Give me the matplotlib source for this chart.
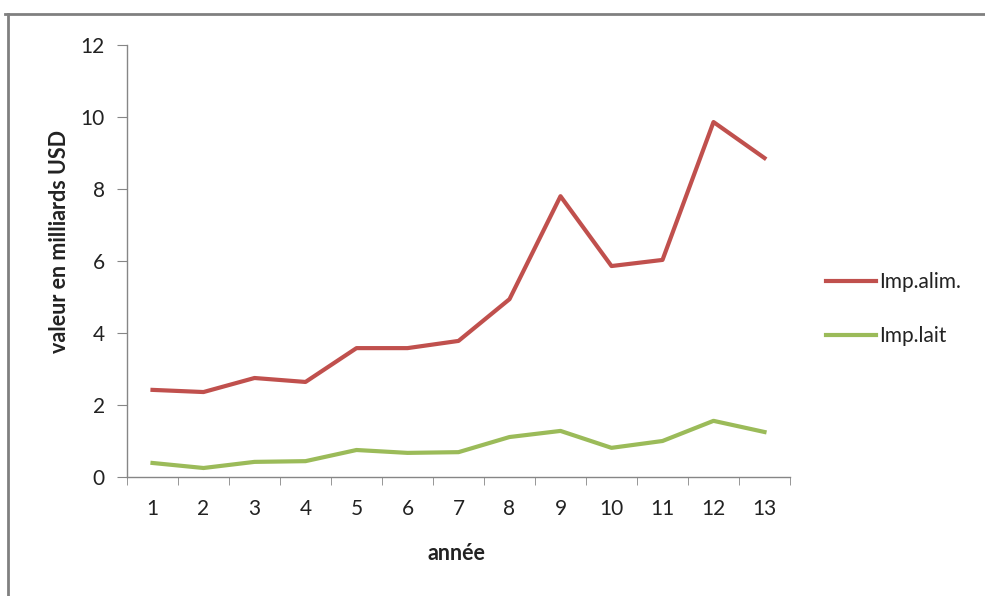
import matplotlib
matplotlib.use("Agg")
import matplotlib.pyplot as plt
from matplotlib.lines import Line2D
from matplotlib.ticker import FixedLocator

# data
annees = list(range(1, 14))
imp_alim = [2.42, 2.36, 2.75, 2.64, 3.58, 3.58, 3.78, 4.94, 7.80, 5.86, 6.03, 9.86, 8.86]
imp_lait = [0.39, 0.25, 0.42, 0.44, 0.75, 0.67, 0.69, 1.11, 1.28, 0.81, 1.00, 1.56, 1.25]
y_ticks = [0, 2, 4, 6, 8, 10, 12]

RED = '#C0504D'
GREEN = '#9BBB59'
GREY = '#868686'

plt.rcParams['font.family'] = ['Lato', 'DejaVu Sans']

fig = plt.figure(figsize=(9.85, 5.96), dpi=100)
ax = fig.add_axes([127/985, 1-477/596, (790-127)/985, (477-45)/596])

ax.plot(annees, imp_alim, color=RED, lw=3.0, solid_joinstyle='round')
ax.plot(annees, imp_lait, color=GREEN, lw=3.0, solid_joinstyle='round')

ax.set_xlim(0.5, 13.5)
ax.set_ylim(0, 12)
ax.set_yticks(y_ticks)
ax.set_xticks(annees)
ax.xaxis.set_minor_locator(FixedLocator([i + 0.5 for i in range(0, 14)]))

for s in ['top', 'right']:
    ax.spines[s].set_visible(False)
for s in ['left', 'bottom']:
    ax.spines[s].set_color(GREY)
    ax.spines[s].set_linewidth(1.0)

ax.tick_params(axis='y', direction='out', length=7, color=GREY, labelsize=15,
               pad=9, labelcolor='#222222')
ax.tick_params(axis='x', which='major', length=0, labelsize=15, pad=16,
               labelcolor='#222222')
ax.tick_params(axis='x', which='minor', direction='out', length=6, color=GREY)

fig.text(60/985, 1-241/596, 'valeur en milliards USD', rotation=90,
         ha='center', va='center', fontsize=15.5, fontweight='bold', color='#222222')
fig.text(456/985, 1-553/596, 'année', ha='center', va='center',
         fontsize=15.5, fontweight='bold', color='#222222')

handles = [Line2D([], [], color=RED, lw=3.0), Line2D([], [], color=GREEN, lw=3.0)]
fig.legend(handles, ['Imp.alim.', 'Imp.lait'], loc='center left',
           bbox_to_anchor=(807/985, 1-309/596), frameon=False, fontsize=15,
           handlelength=2.4, handletextpad=0.15, labelspacing=1.65,
           labelcolor='#222222')

# outer frame: only top and left edges visible, like the screenshot
fig.add_artist(Line2D([5/985, 1], [1-14/596, 1-14/596], color='#808080', lw=2.0))
fig.add_artist(Line2D([8/985, 8/985], [0, 1-14/596], color='#808080', lw=2.0))

fig.savefig('out.png', dpi=100, facecolor='white')
